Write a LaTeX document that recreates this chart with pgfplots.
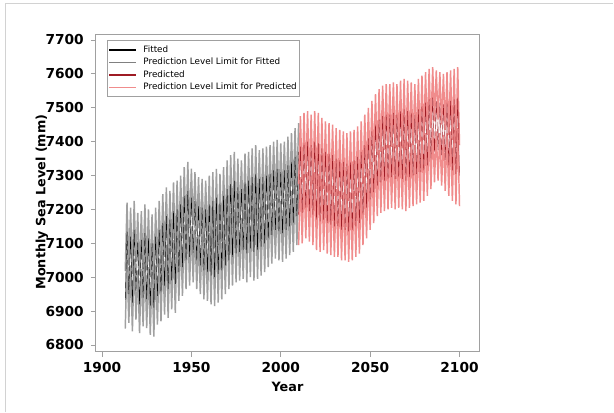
\documentclass[border=0pt]{standalone}
\usepackage{fontspec}
\setmainfont{DejaVu Sans}
\usepackage{pgfplots}
\usepackage{pgfplotstable}
\pgfplotsset{compat=1.18}

\definecolor{fitgray}{RGB}{160,160,160}
\definecolor{predred}{RGB}{158,27,36}
\definecolor{predpink}{RGB}{240,140,140}
\definecolor{axisgray}{RGB}{160,160,160}
\definecolor{framegray}{RGB}{210,210,210}

% year, fitted value, upper and lower prediction limits
\pgfplotstableread{
year fit up lo
1913 6933 7018 6848
1914 7135 7220 7050
1915 6950 7035 6865
1916 7120 7205 7035
1917 6925 7010 6840
1918 7140 7225 7055
1919 6960 7045 6875
1920 7105 7190 7020
1921 6920 7005 6835
1922 7110 7195 7025
1923 6940 7025 6855
1924 7130 7215 7045
1925 6935 7020 6850
1926 7115 7200 7030
1927 6915 7000 6830
1928 7100 7185 7015
1929 6910 6995 6825
1930 7120 7205 7035
1931 6945 7030 6860
1932 7140 7225 7055
1933 6955 7040 6870
1934 7160 7245 7075
1935 6975 7060 6890
1936 7180 7265 7095
1937 6965 7050 6880
1938 7170 7255 7085
1939 6990 7075 6905
1940 7195 7280 7110
1941 6980 7065 6895
1942 7200 7285 7115
1943 7015 7100 6930
1944 7215 7300 7130
1945 7030 7115 6945
1946 7240 7325 7155
1947 7050 7135 6965
1948 7255 7340 7170
1949 7060 7145 6975
1950 7235 7320 7150
1951 7070 7155 6985
1952 7225 7310 7140
1953 7050 7135 6965
1954 7210 7295 7125
1955 7035 7120 6950
1956 7205 7290 7120
1957 7020 7105 6935
1958 7200 7285 7115
1959 7015 7100 6930
1960 7215 7300 7130
1961 7005 7090 6920
1962 7225 7310 7140
1963 7000 7085 6915
1964 7235 7320 7150
1965 7010 7095 6925
1966 7220 7305 7135
1967 7020 7105 6935
1968 7240 7325 7155
1969 7035 7120 6950
1970 7260 7345 7175
1971 7050 7135 6965
1972 7275 7360 7190
1973 7060 7145 6975
1974 7285 7370 7200
1975 7070 7155 6985
1976 7265 7350 7180
1977 7075 7160 6990
1978 7260 7345 7175
1979 7080 7165 6995
1980 7280 7365 7195
1981 7070 7155 6985
1982 7285 7370 7200
1983 7085 7170 7000
1984 7295 7380 7210
1985 7075 7160 6990
1986 7305 7390 7220
1987 7080 7165 6995
1988 7290 7375 7205
1989 7090 7175 7005
1990 7295 7380 7210
1991 7100 7185 7015
1992 7300 7385 7215
1993 7115 7200 7030
1994 7305 7390 7220
1995 7125 7210 7040
1996 7315 7400 7230
1997 7140 7225 7055
1998 7320 7405 7235
1999 7135 7220 7050
2000 7310 7395 7225
2001 7130 7215 7045
2002 7315 7400 7230
2003 7140 7225 7055
2004 7330 7415 7245
2005 7150 7235 7065
2006 7340 7425 7255
2007 7160 7245 7075
2008 7355 7440 7270
2009 7180 7265 7095
2010 7370 7455 7285
}\fitted

% year, predicted value, upper and lower prediction limits
\pgfplotstableread{
year pred up lo
2010 7185 7275 7095
2011 7385 7475 7295
2012 7190 7280 7100
2013 7395 7485 7305
2014 7205 7295 7115
2015 7400 7490 7310
2016 7195 7285 7105
2017 7390 7480 7300
2018 7185 7275 7095
2019 7400 7490 7310
2020 7170 7260 7080
2021 7395 7485 7305
2022 7165 7255 7075
2023 7380 7470 7290
2024 7170 7260 7080
2025 7370 7460 7280
2026 7160 7250 7070
2027 7365 7455 7275
2028 7155 7245 7065
2029 7360 7450 7270
2030 7150 7240 7060
2031 7350 7440 7260
2032 7150 7240 7060
2033 7345 7435 7255
2034 7140 7230 7050
2035 7340 7430 7250
2036 7140 7230 7050
2037 7335 7425 7245
2038 7135 7225 7045
2039 7340 7430 7250
2040 7140 7230 7050
2041 7345 7435 7255
2042 7150 7240 7060
2043 7355 7445 7265
2044 7160 7250 7070
2045 7370 7460 7280
2046 7185 7275 7095
2047 7390 7480 7300
2048 7205 7295 7115
2049 7410 7500 7320
2050 7230 7320 7140
2051 7430 7520 7340
2052 7250 7340 7160
2053 7450 7540 7360
2054 7270 7360 7180
2055 7465 7555 7375
2056 7280 7370 7190
2057 7475 7565 7385
2058 7285 7375 7195
2059 7480 7570 7390
2060 7290 7380 7200
2061 7480 7570 7390
2062 7295 7385 7205
2063 7485 7575 7395
2064 7290 7380 7200
2065 7480 7570 7390
2066 7295 7385 7205
2067 7490 7580 7400
2068 7290 7380 7200
2069 7495 7585 7405
2070 7285 7375 7195
2071 7490 7580 7400
2072 7295 7385 7205
2073 7485 7575 7395
2074 7300 7390 7210
2075 7480 7570 7390
2076 7305 7395 7215
2077 7495 7585 7405
2078 7310 7400 7220
2079 7505 7595 7415
2080 7315 7405 7225
2081 7515 7605 7425
2082 7330 7420 7240
2083 7525 7615 7435
2084 7350 7440 7260
2085 7530 7620 7440
2086 7370 7460 7280
2087 7520 7610 7430
2088 7375 7465 7285
2089 7515 7605 7425
2090 7360 7450 7270
2091 7510 7600 7420
2092 7345 7435 7255
2093 7515 7605 7425
2094 7330 7420 7240
2095 7520 7610 7430
2096 7315 7405 7225
2097 7525 7615 7435
2098 7305 7395 7215
2099 7530 7620 7440
2100 7300 7390 7210
}\predicted

\begin{document}
\begin{tikzpicture}
\fill[white] (0,0) rectangle (460.5pt,309.75pt);
\draw[framegray, line width=0.75pt] (3.75pt,0.5pt) -- (3.75pt,306.75pt) -- (460pt,306.75pt);
\begin{axis}[
    at={(72pt,45.75pt)}, anchor=south west,
    scale only axis,
    width=287.25pt, height=237.75pt,
    xmin=1896.64, xmax=2110.9,
    ymin=6779.3, ymax=7714.75,
    xtick={1900,1950,2000,2050,2100},
    ytick={6800,6900,7000,7100,7200,7300,7400,7500,7600,7700},
    scaled ticks=false,
    /pgf/number format/1000 sep={},
    /pgf/number format/assume math mode=true,
    tick align=outside,
    major tick length=3.75pt,
    xtick pos=bottom, ytick pos=left,
    axis line style={axisgray, line width=0.75pt},
    tick style={axisgray, line width=0.6pt},
    ticklabel style={font=\bfseries\fontsize{10.3}{12}\selectfont, text=black, inner sep=0pt},
    xticklabel shift=3.5pt,
    yticklabel shift=5.25pt,
    xlabel={Year},
    ylabel={Monthly Sea Level (mm)},
    every axis x label/.style={at={(axis description cs:0.5,-0.110)}, anchor=center},
    every axis y label/.style={at={(axis description cs:-0.141,0.473)}, anchor=center, rotate=90},
    xlabel style={font=\bfseries\fontsize{9.6}{11}\selectfont},
    ylabel style={font=\bfseries\fontsize{9.6}{11}\selectfont},
    legend style={at={(0.028,0.984)}, anchor=north west, draw=axisgray, line width=0.5pt,
        font=\fontsize{6.6}{7.5}\selectfont, inner xsep=1pt, inner ysep=3.5pt,
        row sep=1.5pt, column sep=4pt,
        nodes={inner sep=0.8pt, text height=4.8pt, text depth=1.3pt}},
    legend cell align=left,
    legend image code/.code={\draw[#1] (0pt,0pt) -- (20pt,0pt);},
]
\addlegendimage{black, line width=1.5pt}
\addlegendentry{Fitted}
\addlegendimage{gray, line width=0.6pt}
\addlegendentry{Prediction Level Limit for Fitted}
\addlegendimage{predred, line width=1.5pt}
\addlegendentry{Predicted}
\addlegendimage{predpink, line width=0.7pt}
\addlegendentry{Prediction Level Limit for Predicted}

\addplot[fitgray, line width=1.1pt, forget plot] table[x=year, y=up] \fitted;
\addplot[fitgray, line width=1.1pt, forget plot] table[x=year, y=lo] \fitted;
\addplot[black, line width=0.3pt, forget plot] table[x=year, y=fit] \fitted;
\addplot[predpink, line width=1.1pt, forget plot] table[x=year, y=up] \predicted;
\addplot[predpink, line width=1.1pt, forget plot] table[x=year, y=lo] \predicted;
\addplot[predred, line width=0.3pt, forget plot] table[x=year, y=pred] \predicted;
\end{axis}
\end{tikzpicture}
\end{document}
